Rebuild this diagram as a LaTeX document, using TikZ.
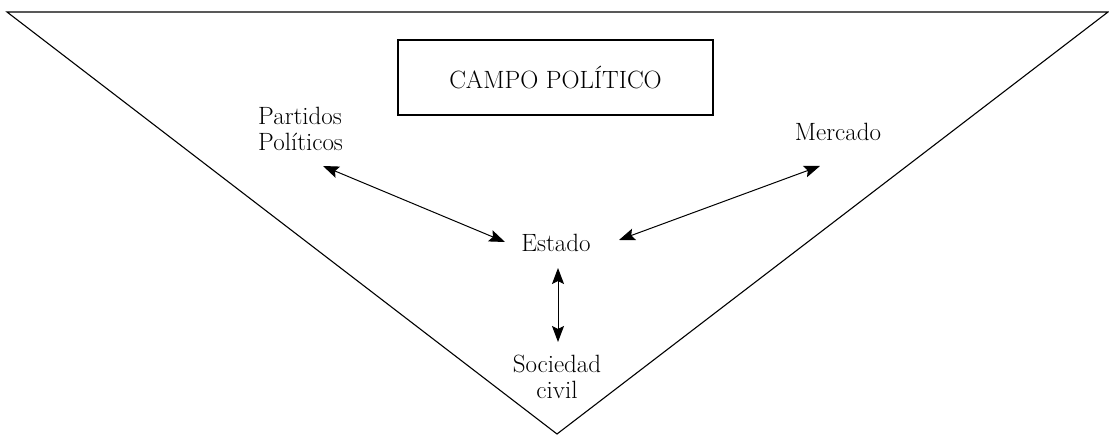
\documentclass[tikz,border=0pt]{standalone}
\usetikzlibrary{arrows.meta}
\begin{document}
\begin{tikzpicture}[x=1pt,y=-1pt,
  lbl/.style={inner sep=0pt, font=\fontsize{25}{26}\selectfont, align=center},
  tip/.tip={Stealth[length=16pt,width=12pt,inset=3pt]},
  dbl/.style={line width=1pt, tip-tip},
  frame/.style={line width=1.1pt}]
\useasboundingbox (0,0) rectangle (1109,435);
\coordinate (tl) at (7,12);
\coordinate (tr) at (1108,12);
\coordinate (ap) at (557,434);
\draw[frame] (tl) -- (tr) -- (ap) -- cycle;
\node[draw, line width=1.2pt, minimum width=315pt, minimum height=75pt, inner sep=0pt,
  font=\fontsize{25}{26}\selectfont] (campo) at (555.5,77.5) {CAMPO POLÍTICO};
\node[lbl, anchor=base west, align=left] (pp) at (258,151) {Partidos\\Políticos};
\node[lbl, anchor=base] (merc) at (838,141) {Mercado};
\node[lbl, anchor=base] (est) at (556,252) {Estado};
\node[lbl, anchor=base] (soc) at (557,399) {Sociedad\\civil};
\coordinate (a1) at (323,166);
\coordinate (a2) at (505,242);
\coordinate (b1) at (619,240);
\coordinate (b2) at (820,166);
\coordinate (c1) at (558,268);
\coordinate (c2) at (558,342);
\draw[dbl] (a1) -- (a2);
\draw[dbl] (b1) -- (b2);
\draw[dbl] (c1) -- (c2);
\end{tikzpicture}
\end{document}
